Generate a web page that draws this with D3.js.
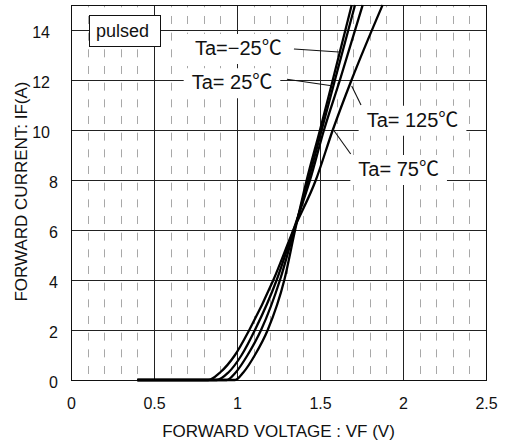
<!DOCTYPE html>
<html>
<head>
<meta charset="utf-8">
<script src="https://cdn.jsdelivr.net/npm/d3@7"></script>
<style>
  html, body { margin: 0; padding: 0; background: #fff; }
  svg { display: block; font-family: "Liberation Sans", Arial, "Noto Sans CJK JP", sans-serif; }
</style>
</head>
<body>
<div id="chart"></div>
<script>
// axis ticks
const vfTicks = [0, 0.5, 1, 1.5, 2, 2.5];
const vfTickLabels = ['0', '0.5', '1', '1.5', '2', '2.5'];
const ifTicks = [0, 2, 4, 6, 8, 10, 12, 14];

// curves: forward current (A) and forward voltage (V) per temperature
const ifPoints = [0, 0, 0.3, 1, 2, 4, 6, 8, 10, 12, 15];
const vfMinus25 = [0.40, 0.988, 1.038, 1.108, 1.185, 1.285, 1.350, 1.420, 1.500, 1.577, 1.691];
const vf25 = [0.40, 0.938, 0.992, 1.064, 1.145, 1.259, 1.345, 1.430, 1.510, 1.590, 1.711];
const vf75 = [0.40, 0.878, 0.948, 1.028, 1.108, 1.239, 1.340, 1.440, 1.524, 1.620, 1.757];
const vf125 = [0.40, 0.827, 0.898, 0.988, 1.074, 1.219, 1.340, 1.475, 1.577, 1.690, 1.877];

// labels: text, anchor (V, A), leader from/to (V, A)
const labelTexts = ['Ta=\u221225\u2103', 'Ta= 25\u2103', 'Ta= 125\u2103', 'Ta= 75\u2103'];
const labelAt = [[0.747, 13.0], [0.727, 11.63], [1.781, 10.13], [1.731, 8.16]];
const leaderFrom = [[1.343, 13.24], [1.301, 12.03], [1.747, 11.0], [1.685, 9.04]];
const leaderTo = [[1.614, 13.12], [1.570, 11.77], [1.691, 11.76], [1.574, 10.07]];

const W = 505, H = 444;
const svg = d3.select('#chart').append('svg').attr('width', W).attr('height', H);

const x = d3.scaleLinear().domain([0, 2.5]).range([71, 486]);
const y = d3.scaleLinear().domain([0, 15]).range([380, 5]);

// minor dashed verticals every 0.1 V
const minor = d3.range(1, 25).filter(i => i % 5 !== 0).map(i => i / 10);
svg.append('g').selectAll('line').data(minor).join('line')
  .attr('x1', d => Math.round(x(d)) + 0.5).attr('x2', d => Math.round(x(d)) + 0.5)
  .attr('y1', y(0)).attr('y2', y(15))
  .attr('stroke', '#a8a8a8').attr('stroke-width', 1)
  .attr('stroke-dasharray', '8 8.667').attr('stroke-dashoffset', 10.667);

// major grid
svg.append('g').selectAll('line').data(vfTicks.slice(1, -1)).join('line')
  .attr('x1', d => Math.round(x(d)) + 0.5).attr('x2', d => Math.round(x(d)) + 0.5)
  .attr('y1', y(0)).attr('y2', y(15))
  .attr('stroke', '#222').attr('stroke-width', 1);
svg.append('g').selectAll('line').data(ifTicks.slice(1)).join('line')
  .attr('y1', d => Math.round(y(d)) + 0.5).attr('y2', d => Math.round(y(d)) + 0.5)
  .attr('x1', x(0)).attr('x2', x(2.5))
  .attr('stroke', '#222').attr('stroke-width', 1);

// label background boxes (drawn over grid)
const labelG = svg.append('g');
const labels = labelTexts.map((t, i) => {
  const g = labelG.append('g');
  const rect = g.append('rect').attr('fill', '#fff');
  const txt = g.append('text')
    .attr('x', x(labelAt[i][0])).attr('y', y(labelAt[i][1]))
    .attr('font-size', 20).attr('fill', '#111')
    .text(t);
  const b = txt.node().getBBox();
  rect.attr('x', b.x - 8).attr('y', b.y - 3).attr('width', b.width + 16).attr('height', b.height + 8);
  return g;
});

// pulsed box
const pulsed = svg.append('g');
pulsed.append('rect')
  .attr('x', 89.5).attr('y', 15.5).attr('width', 71).attr('height', 31)
  .attr('fill', '#fff').attr('stroke', '#111').attr('stroke-width', 1);
pulsed.append('text').attr('x', 96).attr('y', 37.3)
  .attr('font-size', 18).attr('fill', '#111').text('pulsed');

// frame
svg.append('rect')
  .attr('x', 71.5).attr('y', 5.5).attr('width', 415).attr('height', 375)
  .attr('fill', 'none').attr('stroke', '#111').attr('stroke-width', 1);

// curves
const series = [vfMinus25, vf25, vf75, vf125];
const line = d3.line()
  .x(d => x(d[0]))
  .y(d => y(d[1]))
  .curve(d3.curveMonotoneX);
svg.append('g').selectAll('path').data(series).join('path')
  .attr('d', s => line(s.map((v, i) => [v, ifPoints[i]])))
  .attr('fill', 'none').attr('stroke', '#000').attr('stroke-width', 2.3)
  .attr('stroke-linejoin', 'round');

// leader lines
svg.append('g').selectAll('line').data(leaderFrom).join('line')
  .attr('x1', d => x(d[0])).attr('y1', d => y(d[1]))
  .attr('x2', (d, i) => x(leaderTo[i][0])).attr('y2', (d, i) => y(leaderTo[i][1]))
  .attr('stroke', '#111').attr('stroke-width', 1.1);

// x axis
const xAxis = svg.append('g')
  .attr('transform', `translate(0,${y(0)})`)
  .call(d3.axisBottom(x).tickValues(vfTicks).tickFormat((d, i) => vfTickLabels[i]).tickSize(0).tickPadding(17.6));
xAxis.select('.domain').remove();
xAxis.selectAll('text').attr('font-size', 16).attr('fill', '#111')
  .attr('font-family', null);

// y axis
const yAxis = svg.append('g')
  .attr('transform', `translate(${x(0)},0)`)
  .call(d3.axisLeft(y).tickValues(ifTicks).tickSize(0).tickPadding(13));
yAxis.select('.domain').remove();
yAxis.selectAll('text').attr('font-size', 16).attr('fill', '#111')
  .attr('font-family', null)
  .attr('dy', '0.45em')
  .attr('x', d => d >= 10 ? -21 : -13);

// titles
svg.append('text')
  .attr('x', (x(0) + x(2.5)) / 2).attr('y', 437.3)
  .attr('text-anchor', 'middle').attr('font-size', 17).attr('fill', '#111')
  .text('FORWARD VOLTAGE : VF (V)');
svg.append('text')
  .attr('transform', `translate(27,${(y(0) + y(15)) / 2 - 1}) rotate(-90)`)
  .attr('text-anchor', 'middle').attr('font-size', 17).attr('fill', '#111')
  .text('FORWARD CURRENT: IF(A)');
</script>
</body>
</html>
